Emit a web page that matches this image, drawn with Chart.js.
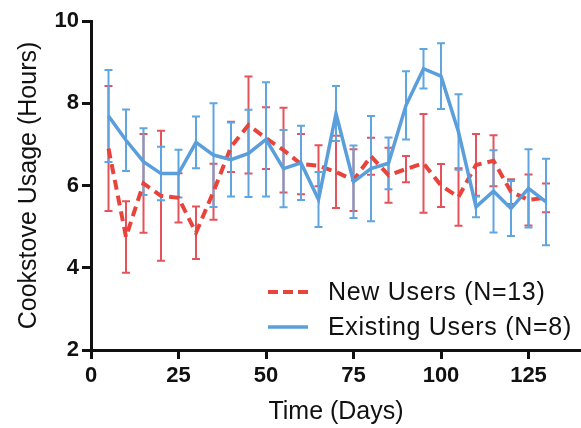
<!DOCTYPE html>
<html>
<head>
<meta charset="utf-8">
<script src="https://cdn.jsdelivr.net/npm/chart.js@4.4.1/dist/chart.umd.min.js"></script>
<style>
  html, body { margin: 0; padding: 0; background: #fff; }
  #wrap { position: relative; width: 581px; height: 428px; }
  #legend {
    position: absolute; left: 268px; top: 274px;
    font-family: 'Liberation Sans', Arial, sans-serif; font-size: 25px; letter-spacing: 0.7px; color: #111;
  }
  .row { display: flex; align-items: center; height: 35px; white-space: nowrap; }
  .row svg { width: 40px; height: 10px; margin-right: 20px; }
</style>
</head>
<body>
<div id="wrap">
  <canvas id="chart" width="581" height="428"></canvas>
  <div id="legend">
    <div class="row"><svg><line x1="0" y1="5" x2="40" y2="5" stroke="#e8443c" stroke-width="4" stroke-dasharray="10,5"/></svg>New Users (N=13)</div>
    <div class="row"><svg><line x1="0" y1="5" x2="40" y2="5" stroke="#5a9edb" stroke-width="3.5"/></svg>Existing Users (N=8)</div>
  </div>
</div>
<script>
// values (hours, mean +/- error)
const days = [5, 10, 15, 20, 25, 30, 35, 40, 45, 50, 55, 60, 65, 70, 75, 80, 85, 90, 95, 100, 105, 110, 115, 120, 125, 130];
const newUsersMean = [6.9, 4.75, 6.05, 5.75, 5.7, 4.85, 5.85, 6.94, 7.47, 7.15, 6.86, 6.52, 6.48, 6.33, 6.13, 6.71, 6.25, 6.4, 6.54, 6.0, 5.72, 6.5, 6.6, 5.85, 5.65, 5.7];
const newUsersErr = [1.52, 0.87, 1.2, 1.58, 0.6, 0.64, 0.68, 0.61, 1.18, 0.75, 1.03, 0.73, 0.5, 0.88, 0.75, 0.45, 0.67, 0.32, 1.2, 0.52, 0.7, 0.75, 0.62, 0.3, 0.62, 0.35];
const existingUsersMean = [7.69, 7.1, 6.58, 6.29, 6.29, 7.05, 6.74, 6.63, 6.78, 7.12, 6.41, 6.55, 5.66, 7.75, 6.09, 6.41, 6.54, 7.95, 8.84, 8.66, 7.3, 5.48, 5.86, 5.44, 5.93, 5.6];
const existingUsersErr = [1.12, 0.75, 0.81, 0.65, 0.58, 0.63, 1.26, 0.9, 1.06, 1.39, 0.94, 0.9, 0.67, 0.67, 0.88, 1.28, 0.63, 0.83, 0.48, 0.8, 0.92, 0.25, 1.0, 0.67, 0.95, 1.05];

const fontFam = "'Liberation Sans', Arial, Helvetica, sans-serif";
const ink = '#111';

const toPoints = (vals) => days.map((d, i) => ({ x: d, y: vals[i] }));

// draws the vertical error bars with caps, under the lines
const errorBars = {
    id: 'errorBars',
    beforeDatasetsDraw(chart) {
        const { ctx, scales: { x, y } } = chart;
        ctx.save();
        ctx.lineWidth = 2;
        chart.data.datasets.slice().reverse().forEach(ds => {
            ctx.strokeStyle = ds.errColor;
            ds.data.forEach((pt, i) => {
                const e = ds.errors[i];
                const px = x.getPixelForValue(pt.x);
                const top = y.getPixelForValue(pt.y + e);
                const bot = y.getPixelForValue(pt.y - e);
                ctx.beginPath();
                ctx.moveTo(px, top); ctx.lineTo(px, bot);
                ctx.moveTo(px - 4, top); ctx.lineTo(px + 4, top);
                ctx.moveTo(px - 4, bot); ctx.lineTo(px + 4, bot);
                ctx.stroke();
            });
        });
        ctx.restore();
    }
};

new Chart(document.getElementById('chart'), {
    type: 'line',
    data: {
        datasets: [
            {
                label: 'Existing Users (N=8)',
                data: toPoints(existingUsersMean),
                errors: existingUsersErr,
                errColor: '#5fa5e0',
                borderColor: '#5a9edb',
                borderWidth: 3.5,
                pointRadius: 0,
                tension: 0,
                order: 0
            },
            {
                label: 'New Users (N=13)',
                data: toPoints(newUsersMean),
                errors: newUsersErr,
                errColor: '#e5525a',
                borderColor: '#e8443c',
                borderWidth: 4,
                borderDash: [10, 6],
                pointRadius: 0,
                tension: 0,
                order: 1
            }
        ]
    },
    options: {
        responsive: false,
        animation: false,
        layout: { padding: { top: 21, left: 0, right: 0, bottom: 0 } },
        plugins: { legend: { display: false }, tooltip: { enabled: false } },
        scales: {
            x: {
                type: 'linear', min: 0, max: 140,
                afterFit: s => { s.height = 78; },
                afterBuildTicks: s => { s.ticks = s.ticks.filter(t => t.value % 25 === 0); },
                ticks: { stepSize: 25, includeBounds: false, color: ink, padding: 4, maxRotation: 0,
                         font: { family: fontFam, size: 22, weight: 'bold' } },
                grid: { drawOnChartArea: false, drawTicks: true, tickLength: 9, tickWidth: 3, color: ink },
                border: { display: true, color: ink, width: 3 },
                title: { display: true, text: 'Time (Days)', color: ink,
                         font: { family: fontFam, size: 25 }, padding: { top: 0, bottom: 1 } }
            },
            y: {
                min: 2, max: 10,
                afterFit: s => { s.width = 91; },
                ticks: { stepSize: 2, color: ink, padding: 3,
                         font: { family: fontFam, size: 22, weight: 'bold' } },
                grid: { drawOnChartArea: false, drawTicks: true, tickLength: 9, tickWidth: 3, color: ink },
                border: { display: true, color: ink, width: 3 },
                title: { display: true, text: 'Cookstove Usage (Hours)', color: ink,
                         font: { family: fontFam, size: 25 }, padding: { top: 14, bottom: 0 } }
            }
        }
    },
    plugins: [errorBars]
});
</script>
</body>
</html>
